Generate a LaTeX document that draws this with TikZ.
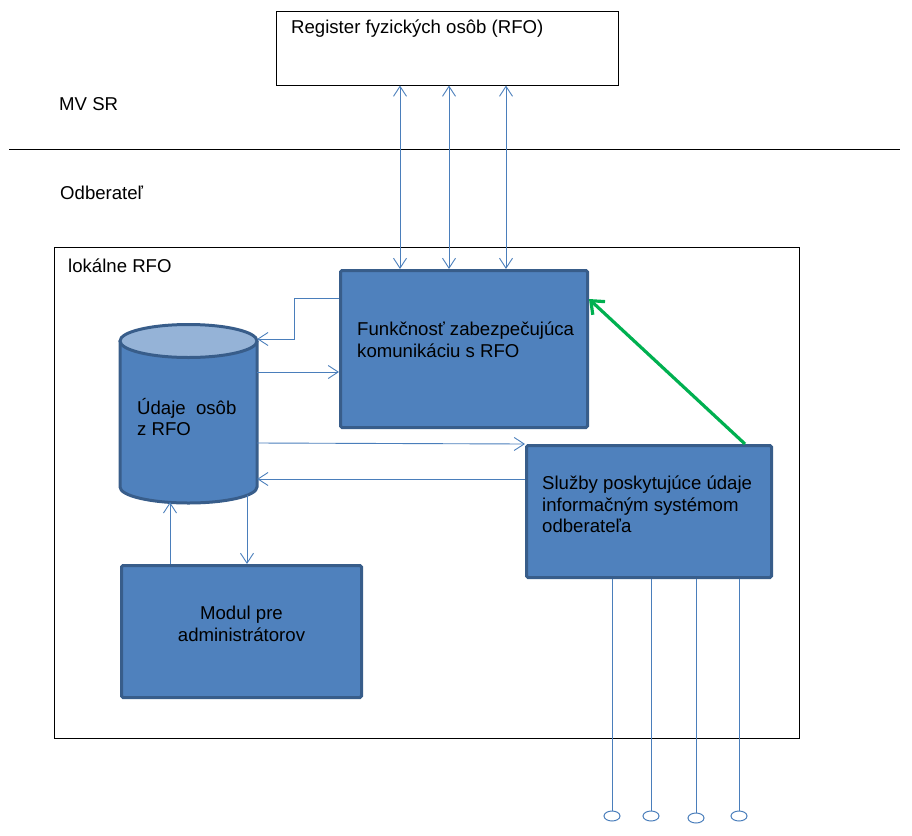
\documentclass[tikz,border=0pt]{standalone}
\usepackage{fontspec}
\setmainfont{Liberation Sans}
\usetikzlibrary{arrows.meta,shapes.geometric}
\definecolor{boxfill}{HTML}{4F81BD}
\definecolor{boxline}{HTML}{385D8A}
\definecolor{cyltop}{HTML}{95B3D7}
\definecolor{connblue}{HTML}{4A7EBB}
\definecolor{greenarr}{HTML}{00B050}
\tikzset{
  bluebox/.style={draw=boxline, fill=boxfill, line width=3pt, rounded corners=1.5pt, inner sep=0pt},
  plainbox/.style={draw=black, line width=1pt, inner sep=0pt},
  txt/.style={font=\fontsize{18.6}{21.5}\selectfont, inner sep=0pt, anchor=north west, align=left, execute at begin node=\strut},
  conn/.style={draw=connblue, line width=0.9pt},
  barb/.style={>={Straight Barb[length=10pt,width=13pt]}},
  greenconn/.style={draw=greenarr, line width=3.2pt, -{Straight Barb[length=11pt,width=18pt]}},
  port/.style={ellipse, draw=connblue, line width=1pt, minimum width=16pt, minimum height=10pt, inner sep=0pt}
}
\begin{document}
\begin{tikzpicture}[x=1pt, y=-1pt, barb]
\useasboundingbox (0,0) rectangle (912,835);
% top register box
\node[plainbox, minimum width=342pt, minimum height=74pt] (reg) at (447.5,48) {};
\node[txt] (regT) at (291,18) {Register fyzických osôb (RFO)};
% zone labels and divider
\node[txt] (mv) at (59,95) {MV SR};
\coordinate (divL) at (9,149);
\coordinate (divR) at (900,149);
\draw[line width=1pt] (divL) -- (divR);
\node[txt] (odb) at (60,184) {Odberateľ};
% local frame
\node[plainbox, minimum width=745pt, minimum height=491pt] (frame) at (427,493) {};
\node[txt] (frameT) at (68,257) {lokálne RFO};
% boxes
\node[bluebox, minimum width=247pt, minimum height=157pt] (funk) at (464,349) {};
\node[txt] (funkT) at (357,322) {Funkčnosť zabezpečujúca\\komunikáciu s RFO};
\node[bluebox, minimum width=245pt, minimum height=132pt] (sl) at (649,511.5) {};
\node[txt] (slT) at (542,476) {Služby poskytujúce údaje\\informačným systémom\\odberateľa};
\node[bluebox, minimum width=240pt, minimum height=132pt] (mod) at (241.5,631.5) {};
\node[txt, anchor=north, align=center] (modT) at (241.5,606) {Modul pre\\administrátorov};
% cylinder
\node[inner sep=0pt, minimum width=137pt, minimum height=178pt] (cyl) at (188.5,414) {};
\fill[boxfill] (120,341) -- (120,487) arc[start angle=180, end angle=360, x radius=68.5pt, y radius=16pt] -- (257,341) -- cycle;
\draw[boxline, line width=3pt] (120,341) -- (120,487) arc[start angle=180, end angle=360, x radius=68.5pt, y radius=16pt] -- (257,341);
\draw[boxline, fill=cyltop, line width=3pt] (188.5,341) ellipse[x radius=68.5pt, y radius=16.5pt];
\node[txt] (cylT) at (137,398) {Údaje\ \ osôb\\z RFO};
% connectors to register
\draw[conn, <->] (reg.south -| 400,0) -- (funk.north -| 400,0);
\draw[conn, <->] (reg.south -| 449,0) -- (funk.north -| 449,0);
\draw[conn, <->] (reg.south -| 506,0) -- (funk.north -| 506,0);
% internal connectors
\draw[conn, ->] (funk.west |- 0,298) -- ++(-45,0) |- (cyl.east |- 0,339);
\draw[conn, ->] (cyl.east |- 0,372) -- (funk.west |- 0,372);
\draw[conn, ->] (cyl.east |- 0,443) -- (sl.north west);
\draw[conn, ->] (sl.west |- 0,479) -- (cyl.east |- 0,479);
\draw[conn, ->] (mod.north -| 170,0) -- ([yshift=1pt]cyl.south -| 170,0);
\draw[conn, ->] ([yshift=8pt]cyl.south -| 247,0) -- (mod.north -| 247,0);
\draw[greenconn] (sl.north -| 745,0) -- (funk.east |- 0,299);
% ports
\node[port] (p1) at (612,816) {};
\node[port] (p2) at (651,816) {};
\node[port] (p3) at (696,818) {};
\node[port] (p4) at (739,816) {};
\draw[conn] (sl.south -| p1) -- (p1.north);
\draw[conn] (sl.south -| p2) -- (p2.north);
\draw[conn] (sl.south -| p3) -- (p3.north);
\draw[conn] (sl.south -| p4) -- (p4.north);
\end{tikzpicture}
\end{document}
